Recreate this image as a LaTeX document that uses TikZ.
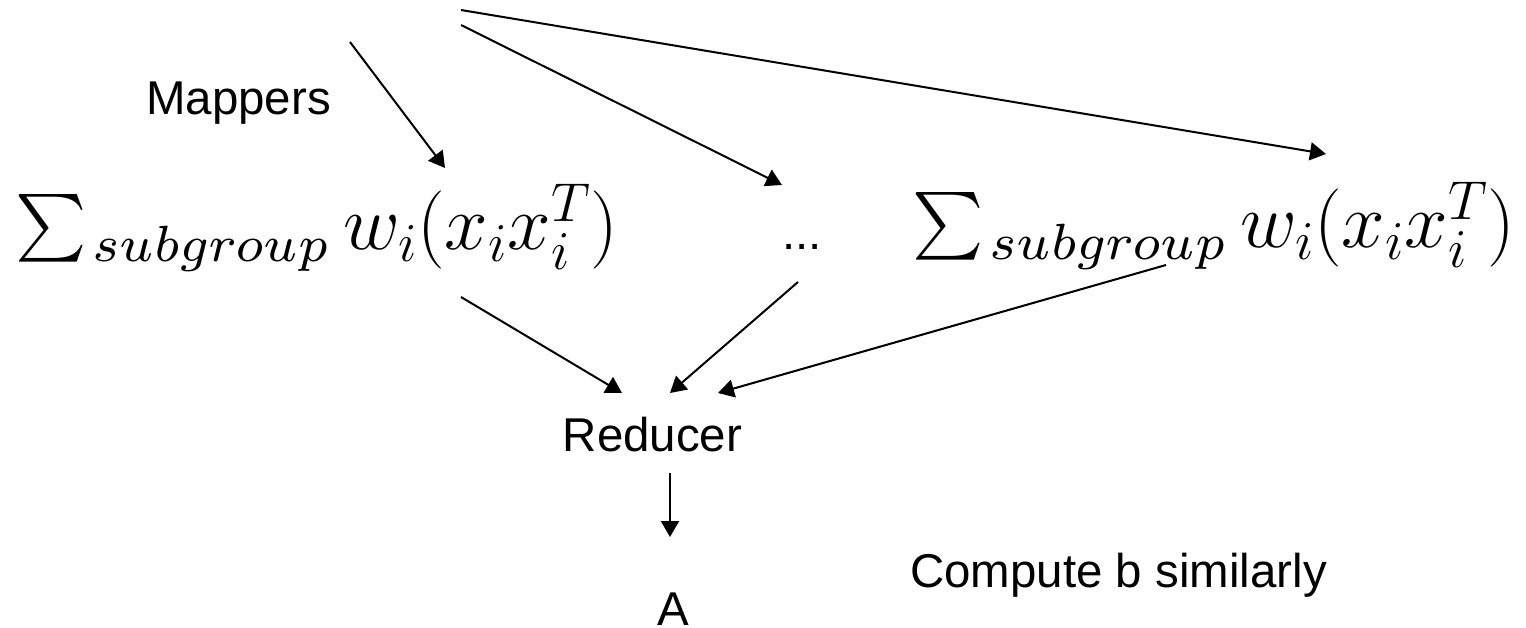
\RequirePackage{fix-cm}
\documentclass[tikz,border=0pt]{standalone}
\usepackage{fontspec}
\newfontfamily\helv{Liberation Sans}
\font\cmmsub=cmmi7 at 29pt
\font\bigex=cmex10 at 38.5pt
\usetikzlibrary{arrows.meta}
\newcommand{\wsum}{%
  \makebox[1.54cm][l]{\raisebox{1.12cm}{\bigex\char"50}}%
  \makebox[5.02cm][l]{\raisebox{-0.24cm}{\cmmsub subgroup}}%
  {\fontsize{44.5}{50}\selectfont$w_i(x_ix_i^T)$}}
\tikzset{
  lbl/.style={font=\helv\fontsize{27}{32}\selectfont, inner sep=0pt, anchor=base},
  frm/.style={inner sep=0pt, anchor=base west},
  conn/.style={line width=0.04cm, -{Triangle[length=0.32cm,width=0.36cm]}},
}
\begin{document}
\begin{tikzpicture}[x=0.02cm,y=-0.02cm]
\useasboundingbox (0,0) rectangle (1526,628);
% text nodes
\node[lbl] (mappers) at (238.5,115) {Mappers};
\node[frm] (f1) at (15,250) {\wsum};
\node[lbl] (dots) at (802,250) {...};
\node[frm] (f2) at (912,248) {\wsum};
\node[lbl] (reducer) at (652.5,452) {Reducer};
\node[lbl] (A) at (673,625) {A};
\node[lbl, anchor=base west] (compute) at (910,587) {Compute b similarly};
% connector ends
\coordinate (m1s) at (350,42);   \coordinate (m1e) at (445,168);
\coordinate (m2s) at (461,25);   \coordinate (m2e) at (782,185);
\coordinate (m3s) at (461,10);   \coordinate (m3e) at (1326,154);
\coordinate (r1s) at (461,297);  \coordinate (r1e) at (622,393);
\coordinate (r2s) at (798,282);  \coordinate (r2e) at (670,393);
\coordinate (r3s) at (1166,265); \coordinate (r3e) at (718,393);
\coordinate (as) at (670,473);   \coordinate (ae) at (670,537);
% connectors
\draw[conn] (m1s) -- (m1e);
\draw[conn] (m2s) -- (m2e);
\draw[conn] (m3s) -- (m3e);
\draw[conn] (r1s) -- (r1e);
\draw[conn] (r2s) -- (r2e);
\draw[conn] (r3s) -- (r3e);
\draw[conn] (as) -- (ae);
\end{tikzpicture}
\end{document}
